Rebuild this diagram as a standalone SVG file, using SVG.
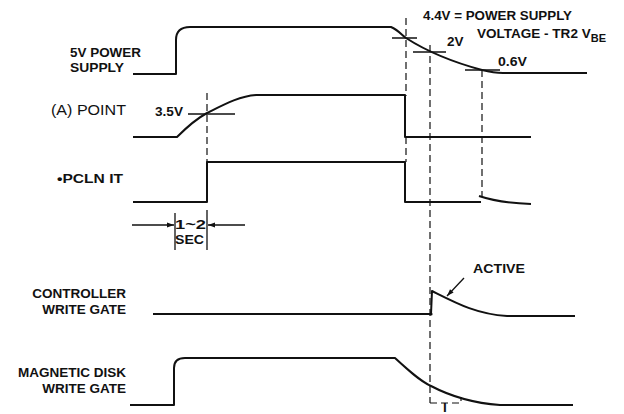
<svg xmlns="http://www.w3.org/2000/svg" width="624" height="414" viewBox="0 0 624 414">
<defs>
<style>
.sig{fill:none;stroke:#111;stroke-width:2;stroke-linejoin:round}
.thin{fill:none;stroke:#111;stroke-width:1.3}
.dash{fill:none;stroke:#111;stroke-width:1.2;stroke-dasharray:7 4}
.b{font-family:"Liberation Sans",Arial,sans-serif;font-weight:bold;font-size:13.5px;fill:#111}
.r{font-family:"Liberation Sans",Arial,sans-serif;font-size:15px;fill:#111}
</style>
<marker id="ah2" viewBox="0 0 10 10" refX="10" refY="5" markerWidth="10" markerHeight="7" orient="auto" markerUnits="userSpaceOnUse">
<path d="M0,1.5 L10,5 L0,8.5 Z" fill="#111"/>
</marker>
</defs>
<rect width="624" height="414" fill="#fff"/>

<g id="labels">
<text class="b" x="70" y="57" textLength="71" lengthAdjust="spacingAndGlyphs">5V POWER</text>
<text class="b" x="70" y="72" textLength="54" lengthAdjust="spacingAndGlyphs">SUPPLY</text>
<text class="r" x="51" y="115" textLength="75" lengthAdjust="spacingAndGlyphs">(A) POINT</text>
<text class="b" x="57" y="183" font-size="13" textLength="66" lengthAdjust="spacingAndGlyphs">•PCLN IT</text>
<text class="b" x="126" y="298" text-anchor="end">CONTROLLER</text>
<text class="b" x="126" y="314" text-anchor="end">WRITE GATE</text>
<text class="b" x="126" y="377" text-anchor="end">MAGNETIC DISK</text>
<text class="b" x="126" y="393" text-anchor="end">WRITE GATE</text>
</g>

<g id="annotations">
<text class="b" x="155" y="116" font-size="12" textLength="28" lengthAdjust="spacingAndGlyphs">3.5V</text>
<text class="b" x="423" y="20" textLength="149" lengthAdjust="spacingAndGlyphs">4.4V = POWER SUPPLY</text>
<text class="b" x="477" y="38" textLength="129" lengthAdjust="spacingAndGlyphs">VOLTAGE - TR2 V<tspan font-size="11" dy="4">BE</tspan></text>
<text class="b" x="447" y="46" font-size="12">2V</text>
<text class="b" x="498" y="66" font-size="12" textLength="29" lengthAdjust="spacingAndGlyphs">0.6V</text>
<text class="b" x="473" y="273" font-size="13" textLength="52" lengthAdjust="spacingAndGlyphs">ACTIVE</text>
<text class="b" x="175" y="229" font-size="12.5" textLength="31" lengthAdjust="spacingAndGlyphs">1~2</text>
<text class="b" x="175" y="244" font-size="12" textLength="29" lengthAdjust="spacingAndGlyphs">SEC</text>
<text class="b" x="443" y="411.5" font-size="8">I</text>
</g>

<g id="signals">
<path id="sig-5v" class="sig" d="M133,74 L176,74 L176,40 Q176,27 190,27 L391,27 C398,30 402,35 406,38 C420,47 445,60 482,70 C490,72 495,73 503,73 L587,73"/>
<path id="sig-a" class="sig" d="M133,137 L177,137 C186,128 196,119 207,113 C225,104 240,96 256,95 L405,95 L405,137 L531,137"/>
<path id="sig-pcln" class="sig" d="M133,202 L207,202 L207,162 L405,162 L405,202 L481,202"/>
<path class="sig" d="M479,196 Q500,203 531,204"/>
<path id="sig-ctrl" class="sig" d="M153,314 L431,314 L432,291 C456,303 476,314 507,316 L575,316"/>
<circle cx="431" cy="314" r="1.6" fill="#111"/>
<path id="sig-disk" class="sig" d="M130,405 L174,405 L174,368 Q174,358 185,358 L395,358 C408,370 420,381 431,386 C450,396 472,403 500,405 L573,405"/>
</g>

<g id="connectors">
<path class="dash" d="M406,18 V96"/>
<path class="dash" d="M406,137 V162"/>
<path class="dash" d="M430,45 V403 M430,403 H461 V397"/>
<path class="dash" d="M482,70 V196"/>
<path class="dash" d="M207,93 V162"/>
<path class="thin" d="M392,38 H417 M413,52 H446 M465,70 H500 M188,114 H235"/>
<path class="thin" d="M175,213 V250 M207,210 V250"/>
<path class="thin" d="M132,225 H174" marker-end="url(#ah2)"/>
<path class="thin" d="M245,225 H208" marker-end="url(#ah2)"/>
<path class="thin" d="M464,278 L447,296" marker-end="url(#ah2)"/>
</g>
</svg>
